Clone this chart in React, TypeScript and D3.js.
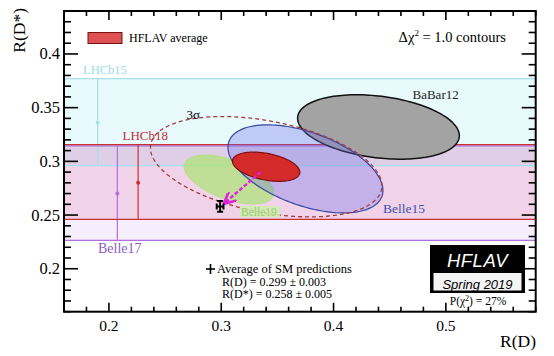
import React from "react";
import * as d3 from "d3";

// ---- Data ----
const ellipseNames = ["BaBar12", "Belle19", "Belle15", "Average"];
const ellipseRD = [0.44, 0.307, 0.375, 0.34];
const ellipseRDs = [0.332, 0.283, 0.293, 0.295];
const ellipseSigD = [0.072, 0.04, 0.069, 0.03];
const ellipseSigDs = [0.03, 0.0228, 0.041, 0.0136];
const ellipseRho = [-0.27, -0.53, -0.49, -0.38];

const bandNames = ["LHCb15", "Belle17", "LHCb18"];
const bandRD = [0.19, 0.2075, 0.226];
const bandCenter = [0.336, 0.27, 0.28];
const bandLow = [0.296, 0.2265, 0.246];
const bandHigh = [0.377, 0.3145, 0.3155];

const smRD = [0.299, 0.003];
const smRDs = [0.258, 0.005];
const arrowFrom = [0.335, 0.29];
const arrowTo = [0.303, 0.2612];
const threeSigmaChi2 = 11.8;

const xTickLabels = [0.2, 0.3, 0.4, 0.5];
const yTickLabels = [0.2, 0.25, 0.3, 0.35, 0.4];

// ---- Layout ----
const W = 554, H = 356;
const L = 64, R = 535.7, T = 11, B = 311.7;
const x = d3.scaleLinear().domain([0.16, 0.58]).range([L, R]);
const y = d3.scaleLinear().domain([0.16, 0.44]).range([B, T]);
const serif = "'Liberation Serif', 'Times New Roman', serif";
const sans = "'Liberation Sans', Arial, sans-serif";

function ellipsePath(mx: number, my: number, sx: number, sy: number, rho: number, k: number) {
  const n = 160;
  const s = Math.sqrt(k);
  const pts: [number, number][] = d3.range(n).map((i) => {
    const t = (2 * Math.PI * i) / n;
    return [mx + s * sx * Math.cos(t), my + s * sy * (rho * Math.cos(t) + Math.sqrt(1 - rho * rho) * Math.sin(t))];
  });
  return d3.line<[number, number]>().x((d) => x(d[0])).y((d) => y(d[1])).curve(d3.curveLinearClosed)(pts) || "";
}

const ellipseStyle: Record<string, { fill: string; stroke: string; sw: number }> = {
  BaBar12: { fill: "#a3a3a3", stroke: "#111", sw: 1.5 },
  Belle19: { fill: "rgba(175,225,120,0.75)", stroke: "rgba(175,225,120,0.8)", sw: 1 },
  Belle15: { fill: "rgba(110,110,235,0.33)", stroke: "#3a46a0", sw: 1.2 },
  Average: { fill: "#d42a2a", stroke: "#7a1010", sw: 1.2 },
};

const bandStyle: Record<string, { fill: string; line: string; text: string }> = {
  LHCb15: { fill: "rgba(0,200,220,0.09)", line: "#a6e0ea", text: "#9cdbe6" },
  Belle17: { fill: "rgba(160,60,230,0.09)", line: "#b070e0", text: "#8a5cc8" },
  LHCb18: { fill: "rgba(210,40,100,0.13)", line: "#c83232", text: "#c03030" },
};

export default function App() {
  const xMinor = d3.range(0.16, 0.5801, 0.02);
  const yMinor = d3.range(0.16, 0.4401, 0.01);
  const isMajorX = (v: number) => Math.abs(v * 10 - Math.round(v * 10)) < 1e-6;
  const isMajorY = (v: number) => Math.abs(v * 20 - Math.round(v * 20)) < 1e-6;

  return (
    <svg width={W} height={H} style={{ position: "absolute", left: 0, top: 0, background: "#fff" }}>
      <defs>
        <clipPath id="plot">
          <rect x={L} y={T} width={R - L} height={B - T} />
        </clipPath>
        <marker id="arr" viewBox="0 0 10 10" refX="9" refY="5" markerWidth="5" markerHeight="5" orient="auto">
          <path d="M0,0 L10,5 L0,10" fill="none" stroke="#e020e0" strokeWidth="2.2" />
        </marker>
      </defs>
      <g clipPath="url(#plot)">
        {/* bands */}
        {bandNames.map((n, i) => (
          <rect key={"b" + n} x={L} width={R - L} y={y(bandHigh[i])} height={y(bandLow[i]) - y(bandHigh[i])} fill={bandStyle[n].fill} />
        ))}
        {bandNames.map((n, i) => (
          <g key={"bl" + n} stroke={bandStyle[n].line} strokeWidth={1.2}>
            <line x1={L} x2={R} y1={y(bandHigh[i])} y2={y(bandHigh[i])} />
            <line x1={L} x2={R} y1={y(bandLow[i])} y2={y(bandLow[i])} />
            <line x1={x(bandRD[i])} x2={x(bandRD[i])} y1={y(bandHigh[i])} y2={y(bandLow[i])} />
            <circle cx={x(bandRD[i])} cy={y(bandCenter[i])} r={2} fill={bandStyle[n].line} stroke="none" />
          </g>
        ))}
        {/* ellipses */}
        {ellipseNames.map((n, i) => (
          <path key={"e" + n} d={ellipsePath(ellipseRD[i], ellipseRDs[i], ellipseSigD[i], ellipseSigDs[i], ellipseRho[i], 1)}
            fill={ellipseStyle[n].fill} stroke={ellipseStyle[n].stroke} strokeWidth={ellipseStyle[n].sw} />
        ))}
        {/* 3 sigma */}
        <path d={ellipsePath(ellipseRD[3], ellipseRDs[3], ellipseSigD[3], ellipseSigDs[3], ellipseRho[3], threeSigmaChi2)}
          fill="none" stroke="#a83a3a" strokeWidth={1.3} strokeDasharray="4,3" />
        {/* arrow */}
        <line x1={x(arrowFrom[0])} y1={y(arrowFrom[1])} x2={x(arrowTo[0])} y2={y(arrowTo[1])}
          stroke="#e020e0" strokeWidth={2.4} strokeDasharray="4,2" markerEnd="url(#arr)" />
        {/* SM point */}
        <g stroke="#000" strokeWidth={2}>
          <line x1={x(smRD[0] - smRD[1])} x2={x(smRD[0] + smRD[1])} y1={y(smRDs[0])} y2={y(smRDs[0])} />
          <line x1={x(smRD[0])} x2={x(smRD[0])} y1={y(smRDs[0] - smRDs[1])} y2={y(smRDs[0] + smRDs[1])} />
          <line x1={x(smRD[0]) - 3} x2={x(smRD[0]) + 3} y1={y(smRDs[0] - smRDs[1])} y2={y(smRDs[0] - smRDs[1])} />
          <line x1={x(smRD[0]) - 3} x2={x(smRD[0]) + 3} y1={y(smRDs[0] + smRDs[1])} y2={y(smRDs[0] + smRDs[1])} />
          <line x1={x(smRD[0] - smRD[1])} x2={x(smRD[0] - smRD[1])} y1={y(smRDs[0]) - 3} y2={y(smRDs[0]) + 3} />
          <line x1={x(smRD[0] + smRD[1])} x2={x(smRD[0] + smRD[1])} y1={y(smRDs[0]) - 3} y2={y(smRDs[0]) + 3} />
        </g>
      </g>

      {/* labels in plot */}
      <text x={83} y={74} fontFamily={serif} fontSize={12.5} fill={bandStyle.LHCb15.text}>LHCb15</text>
      <text x={122.5} y={140} fontFamily={serif} fontSize={13} fill={bandStyle.LHCb18.text}>LHCb18</text>
      <text x={98} y={253} fontFamily={serif} fontSize={14} fill={bandStyle.Belle17.text}>Belle17</text>
      <text x={186.5} y={119} fontFamily={serif} fontSize={13} fill="#000">3σ</text>
      <text x={412.5} y={99} fontFamily={serif} fontSize={13} fill="#222">BaBar12</text>
      <text x={383} y={213} fontFamily={serif} fontSize={13.5} fill="#4050b0">Belle15</text>
      <rect x={240} y={206} width={40} height={11} fill="rgba(205,240,170,0.8)" />
      <text x={241} y={216} fontFamily={serif} fontSize={11.5} fill="#9ccc74">Belle19</text>

      {/* legend */}
      <rect x={88} y={32.5} width={34} height={11} fill="#dc5252" stroke="#7a1010" strokeWidth={1} />
      <text x={129} y={42} fontFamily={serif} fontSize={12} fill="#000">HFLAV average</text>
      <text x={506} y={42} fontFamily={serif} fontSize={14.5} textAnchor="end" fill="#000">
        Δχ<tspan dy={-6} fontSize={9}>2</tspan><tspan dy={6}> = 1.0 contours</tspan>
      </text>

      {/* SM legend */}
      <g stroke="#000" strokeWidth={1.6}>
        <line x1={206} x2={215} y1={269} y2={269} />
        <line x1={210.5} x2={210.5} y1={264} y2={274} />
      </g>
      <text x={217} y={273} fontFamily={serif} fontSize={12.5} fill="#000">Average of SM predictions</text>
      <text x={222} y={285.5} fontFamily={serif} fontSize={12} fill="#000">R(D) = 0.299 ± 0.003</text>
      <text x={222} y={298} fontFamily={serif} fontSize={12} fill="#000">R(D*) = 0.258 ± 0.005</text>

      {/* HFLAV logo */}
      <rect x={430} y={245} width={95} height={48} fill="#000" />
      <rect x={433} y={272.5} width={89} height={18.5} fill="#f4f4f4" stroke="#000" strokeWidth={1} />
      <text x={477.5} y={267} textAnchor="middle" fontFamily={sans} fontStyle="italic" fontSize={18.5} fill="#fff" letterSpacing={0.5}>HFLAV</text>
      <text x={477.5} y={288.5} textAnchor="middle" fontFamily={sans} fontStyle="italic" fontSize={13} fill="#000">Spring 2019</text>
      <text x={478} y={305} textAnchor="middle" fontFamily={serif} fontSize={11.5} fill="#000">
        P(χ<tspan dy={-4} fontSize={8}>2</tspan><tspan dy={4}>) = 27%</tspan>
      </text>

      {/* frame & ticks */}
      <rect x={L} y={T} width={R - L} height={B - T} fill="none" stroke="#000" strokeWidth={2} />
      <g stroke="#000" strokeWidth={1.6}>
        {xMinor.map((v) => {
          const len = isMajorX(v) ? 9 : 5;
          return (
            <g key={"xt" + v}>
              <line x1={x(v)} x2={x(v)} y1={B} y2={B - len} />
              <line x1={x(v)} x2={x(v)} y1={T} y2={T + len} />
            </g>
          );
        })}
        {yMinor.map((v) => {
          const len = isMajorY(v) ? 14 : 7;
          return (
            <g key={"yt" + v}>
              <line x1={L} x2={L + len} y1={y(v)} y2={y(v)} />
              <line x1={R} x2={R - len} y1={y(v)} y2={y(v)} />
            </g>
          );
        })}
      </g>
      {xTickLabels.map((v) => (
        <text key={"xl" + v} x={x(v)} y={330.5} textAnchor="middle" fontFamily={serif} fontSize={15.5} fill="#000">{d3.format("")(v)}</text>
      ))}
      {yTickLabels.map((v) => (
        <text key={"yl" + v} x={60} y={y(v) + 5.5} textAnchor="end" fontFamily={serif} fontSize={16.5} fill="#000">{d3.format("")(v)}</text>
      ))}
      <text transform={`translate(25,8) rotate(-90)`} textAnchor="end" fontFamily={serif} fontSize={17.5} fill="#000">R(D*)</text>
      <text x={536} y={347} textAnchor="end" fontFamily={serif} fontSize={17.5} fill="#000">R(D)</text>
    </svg>
  );
}
